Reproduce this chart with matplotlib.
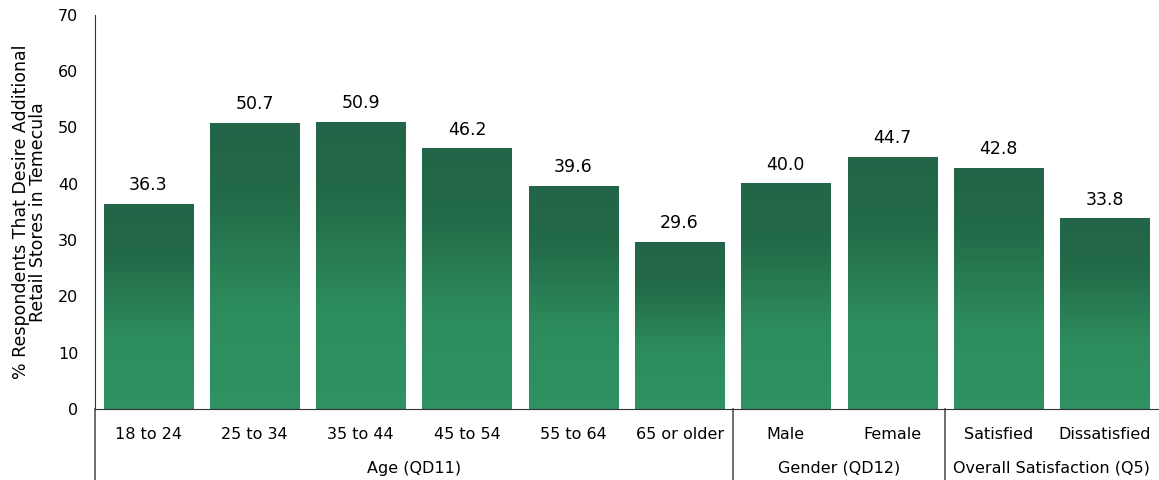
import numpy as np
import matplotlib.pyplot as plt
from matplotlib.colors import LinearSegmentedColormap

categories = ["18 to 24", "25 to 34", "35 to 44", "45 to 54", "55 to 64", "65 or older",
              "Male", "Female", "Satisfied", "Dissatisfied"]
values = [36.3, 50.7, 50.9, 46.2, 39.6, 29.6, 40.0, 44.7, 42.8, 33.8]
groups = ["Age (QD11)", "Gender (QD12)", "Overall Satisfaction (Q5)"]
group_sizes = [6, 2, 2]

cmap = LinearSegmentedColormap.from_list(
    "grn", [(0.0, "#2e9262"), (0.35, "#2d8c5d"), (0.75, "#236a48"), (1.0, "#226548")])

fig = plt.figure(figsize=(11.59, 4.8), dpi=100)
ax = fig.add_axes([0.082, 0.148, 0.917, 0.821])

x = np.arange(len(categories))
bars = ax.bar(x, values, width=0.84, color="none")
grad = np.linspace(0, 1, 256).reshape(-1, 1)
for b in bars:
    x0, w, h = b.get_x(), b.get_width(), b.get_height()
    ax.imshow(grad, cmap=cmap, origin="lower", aspect="auto",
              extent=(x0, x0 + w, 0, h), zorder=2)
    ax.text(x0 + w / 2, h + 1.8, f"{h:.1f}", ha="center", va="bottom", fontsize=12.5)

ax.set_xlim(-0.5, len(categories) - 0.5)
ax.set_ylim(0, 70)
ax.set_yticks(range(0, 71, 10))
ax.tick_params(axis="y", length=0, labelsize=11.5, pad=12)
ax.set_xticks(x)
ax.set_xticklabels(categories, fontsize=11.5)
ax.tick_params(axis="x", length=0, pad=13)
for s in ["top", "right"]:
    ax.spines[s].set_visible(False)
ax.spines["left"].set_color("#333333")
ax.spines["bottom"].set_color("#333333")
ax.set_ylabel("% Respondents That Desire Additional\nRetail Stores in Temecula",
              fontsize=12.5, labelpad=8, linespacing=0.95)

# group separators and labels below axis
trans = ax.get_xaxis_transform()
edges = np.cumsum([0] + group_sizes) - 0.5
for e in edges[:-1]:
    ax.plot([e, e], [0, -0.19], transform=trans, color="#555555", lw=1.2, clip_on=False)
for i, g in enumerate(groups):
    mid = (edges[i] + edges[i + 1]) / 2
    ax.text(mid, -0.15, g, transform=trans, ha="center", va="center", fontsize=11.5)

fig.savefig("out.png", dpi=100)
